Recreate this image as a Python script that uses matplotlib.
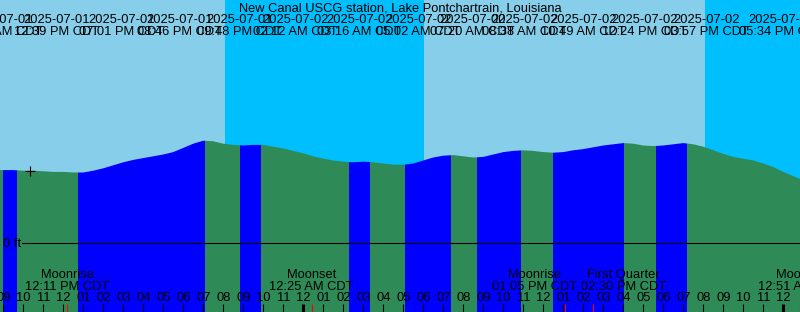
import matplotlib
matplotlib.use("Agg")
import matplotlib.pyplot as plt
import matplotlib.transforms as mtransforms
import numpy as np
import pandas as pd

plt.rcParams['font.family'] = ['Liberation Sans', 'DejaVu Sans']
plt.rcParams['font.size'] = 9.3

title = "New Canal USCG station, Lake Pontchartrain, Louisiana"
origin = pd.Timestamp("2025-07-01 00:00")
view_start = "2025-07-01 08:50 AM"
view_hours = 40

# water level (ft), every half hour from 08:30 AM, Jul 1
level_start = "2025-07-01 08:30 AM"
levels = [1.22, 1.22, 1.22, 1.21, 1.21, 1.20, 1.19, 1.19, 1.18, 1.18,
          1.21, 1.25, 1.30, 1.35, 1.39, 1.42, 1.45, 1.48, 1.52, 1.59,
          1.66, 1.71, 1.70, 1.66, 1.64, 1.63, 1.64, 1.64, 1.61, 1.58,
          1.54, 1.50, 1.45, 1.41, 1.38, 1.36, 1.35, 1.36, 1.35, 1.33,
          1.31, 1.31, 1.33, 1.38, 1.43, 1.46, 1.47, 1.45, 1.43, 1.44,
          1.48, 1.52, 1.54, 1.55, 1.54, 1.52, 1.51, 1.52, 1.55, 1.57,
          1.60, 1.63, 1.65, 1.67, 1.66, 1.63, 1.62, 1.63, 1.65, 1.67,
          1.65, 1.61, 1.55, 1.49, 1.44, 1.41, 1.38, 1.33, 1.27, 1.19,
          1.12, 1.05]

# highs and lows
ext_dates = ["2025-07-01"] * 6 + ["2025-07-02"] * 10
ext_times = ["08:56 AM", "09:36 AM", "12:39 PM", "07:01 PM", "08:46 PM", "09:48 PM",
             "02:12 AM", "03:16 AM", "05:02 AM", "07:20 AM", "08:38 AM", "10:49 AM",
             "12:24 PM", "03:57 PM", "05:34 PM", "07:07 PM"]
ext_kinds = ["L", "H", "L", "H", "L", "H", "L", "H", "L", "H", "L", "H", "L", "H", "L", "H"]

# sunset / sunrise
sun_times = ["2025-07-01 08:04 PM", "2025-07-02 06:02 AM", "2025-07-02 08:05 PM"]

# moon
moon_times = ["2025-07-01 12:11 PM", "2025-07-02 12:25 AM", "2025-07-02 01:05 PM",
              "2025-07-02 02:30 PM", "2025-07-03 12:51 AM"]
moon_names = ["Moonrise", "Moonset", "Moonrise", "First Quarter", "Moonset"]

now_time = "2025-07-01 10:21 AM"
now_level = 1.21

# pixel x centres of the high/low labels along the top (events 1..14)
ext_label_px = [-0.2, 56.3, 121.3, 179.3, 239.3, 295.3, 359.3, 418.3,
                472.3, 524.3, 583.3, 644.3, 706.3, 781.3]

W, H = 800, 312
PX_PER_FT = 60.0
ZERO_Y = 243.3
BAND_LAG = 0.07  # column colouring trails the event time a little

SKY_DAY = "#87ceeb"
SKY_NIGHT = "#00bfff"
FLOOD = "#0000ff"
EBB = "#2e8b57"


def hrs(s):
    return (pd.Timestamp(s) - origin).total_seconds() / 3600.0


def fy(py):
    return 1 - py / H


x0 = hrs(view_start)
x1 = x0 + view_hours
ybot = (ZERO_Y - H) / PX_PER_FT
ytop = ZERO_Y / PX_PER_FT

fig = plt.figure(figsize=(W / 100, H / 100), dpi=100)
ax = fig.add_axes([0, 0, 1, 1])
ax.set_xlim(x0, x1)
ax.set_ylim(ybot, ytop)
ax.axis('off')
xt = mtransforms.blended_transform_factory(ax.transData, ax.transAxes)

# sky: day / night
edges = [x0] + [hrs(s) for s in sun_times] + [x1]
for i in range(len(edges) - 1):
    ax.axvspan(edges[i], edges[i + 1], color=SKY_DAY if i % 2 == 0 else SKY_NIGHT,
               lw=0, zorder=0)

# water, coloured rising / falling
t = hrs(level_start) + 0.5 * np.arange(len(levels))
under = ax.fill_between(t, levels, ybot, facecolor='none', edgecolor='none')
clip = under.get_paths()[0]
ext_h = [hrs(d + " " + tm) + BAND_LAG for d, tm in zip(ext_dates, ext_times)]
bounds = [x0] + ext_h + [x1]
kinds = ext_kinds + ["L" if ext_kinds[-1] == "H" else "H"]
for i in range(len(bounds) - 1):
    r = ax.axvspan(bounds[i], bounds[i + 1], color=FLOOD if kinds[i] == "H" else EBB,
                   lw=0, zorder=1)
    r.set_clip_path(clip, ax.transData)

# zero line
ax.axhline(0, xmin=21.7 / W, xmax=1, color='black', lw=0.8, zorder=3)
fig.text(3 / W, fy(246.8), "0 ft", ha='left', va='baseline')

# now marker
ax.plot([hrs(now_time)], [now_level], marker='+', color='black', ms=6.5, mew=0.8,
        zorder=4)

# title and high/low labels
fig.text(0.5, fy(11.7), title, ha='center', va='baseline')
for k, px in enumerate(ext_label_px):
    i = k + 1
    fig.text(px / W, fy(23.3), ext_dates[i], ha='center', va='baseline')
    fig.text(px / W, fy(35.0), ext_times[i] + " CDT", ha='center', va='baseline')

# hour ticks and labels
tick_h = 8 / H
for h in range(int(np.ceil(x0)), int(x1) + 1):
    midnight = h % 24 == 0
    ax.vlines(h, 0, tick_h, transform=xt, color='black',
              lw=2.2 if midnight else 0.8, zorder=5)
    ax.text(h, fy(300.7), "%02d" % ((h - 1) % 12 + 1), transform=xt,
            ha='center', va='baseline', zorder=5)

# moon events
moon_h = [hrs(s) for s in moon_times]
ax.vlines(moon_h, 0, tick_h, transform=xt, color='red', lw=0.8, zorder=6)
label_h = list(moon_h)
gap = 4.45
for i in range(len(label_h) - 1):
    if label_h[i + 1] - label_h[i] < gap:
        mid = (label_h[i] + label_h[i + 1]) / 2
        label_h[i], label_h[i + 1] = mid - gap / 2, mid + gap / 2
for name, s, lh in zip(moon_names, moon_times, label_h):
    ts = pd.Timestamp(s)
    ax.text(lh, fy(278.3), name, transform=xt, ha='center', va='baseline', zorder=5)
    ax.text(lh, fy(290.0), ts.strftime("%I:%M %p") + " CDT", transform=xt,
            ha='center', va='baseline', zorder=5)

fig.savefig("out.png", dpi=100)
